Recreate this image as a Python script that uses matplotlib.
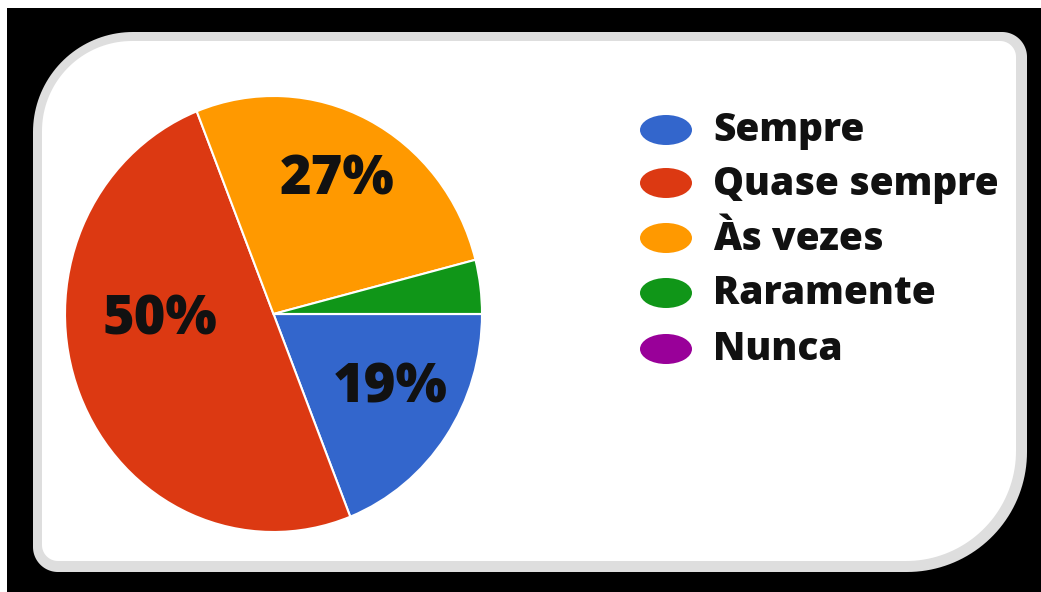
import numpy as np
import matplotlib
matplotlib.use("Agg")
import matplotlib.pyplot as plt
from matplotlib.patches import Polygon, Ellipse

categories = ["Sempre", "Quase sempre", "Às vezes", "Raramente", "Nunca"]
values = [19, 50, 27, 4, 0]
colors = ["#3366cc", "#dc3912", "#ff9900", "#109618", "#990099"]
pct_labels = ["19%", "50%", "27%", "", ""]

FONT = "Open Sans"
W, H = 1041, 592
fig = plt.figure(figsize=(W / 100, H / 100), dpi=100)
fig.patch.set_facecolor("black")

bg = fig.add_axes([0, 0, 1, 1])
bg.set_xlim(0, W)
bg.set_ylim(H, 0)
bg.axis("off")

# white outer margin (top/left)
bg.add_patch(plt.Rectangle((0, 0), W, 8, color="white", lw=0))
bg.add_patch(plt.Rectangle((0, 0), 7, H, color="white", lw=0))


def rounded(x0, y0, x1, y1, rtl, rtr, rbr, rbl, n=40):
    pts = []
    def arc(cx, cy, r, a0, a1):
        t = np.linspace(np.radians(a0), np.radians(a1), n)
        return list(zip(cx + r * np.cos(t), cy + r * np.sin(t)))
    pts += arc(x0 + rtl, y0 + rtl, rtl, 180, 270)
    pts += arc(x1 - rtr, y0 + rtr, rtr, 270, 360)
    pts += arc(x1 - rbr, y1 - rbr, rbr, 0, 90)
    pts += arc(x0 + rbl, y1 - rbl, rbl, 90, 180)
    return np.array(pts)

bg.add_patch(Polygon(rounded(33, 32, 1027, 572, 100, 25, 120, 25),
                     closed=True, fc="#dedede", ec="none"))
bg.add_patch(Polygon(rounded(42, 41, 1016, 561, 90, 16, 110, 16),
                     closed=True, fc="white", ec="none"))

# pie axes (slightly stretched vertically like the reference)
px0, px1, py0, py1 = 65, 482, 96, 532
pax = fig.add_axes([px0 / W, 1 - py1 / H, (px1 - px0) / W, (py1 - py0) / H])
wedges, _ = pax.pie(values, colors=colors, startangle=0, counterclock=False,
                    wedgeprops=dict(edgecolor="white", linewidth=1.5))
pax.set_aspect("auto")
pax.set_xlim(-1, 1)
pax.set_ylim(-1, 1)
pax.axis("off")

# overlay axes for text
top = fig.add_axes([0, 0, 1, 1])
top.set_xlim(0, W)
top.set_ylim(H, 0)
top.axis("off")
top.patch.set_alpha(0)

label_pos = {"19%": (390, 388), "50%": (160, 320), "27%": (337, 180)}
for lab in pct_labels:
    if lab:
        x, y = label_pos[lab]
        top.text(x, y, lab, ha="center", va="center", fontsize=39,
                 fontfamily=FONT, fontweight="heavy", color="#111111")

# legend
row_y = [130, 183, 238, 293, 349]
for cat, col, y in zip(categories, colors, row_y):
    top.add_patch(Ellipse((666, y), 52, 30, fc=col, ec="none"))
    top.text(713, y + 1, cat, ha="left", va="center", fontsize=28,
             fontfamily=FONT, fontweight="heavy", color="#111111")

fig.savefig("out.png", dpi=100, facecolor="black")
